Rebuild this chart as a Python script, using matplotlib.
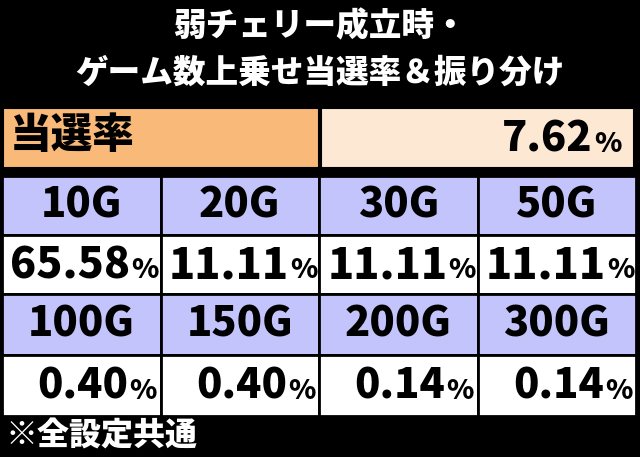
import matplotlib
matplotlib.use("Agg")
import matplotlib.pyplot as plt
from matplotlib.patches import Rectangle

title_lines = ["弱チェリー成立時・", "ゲーム数上乗せ当選率＆振り分け"]
rate_label = "当選率"
rate_value = "7.62"
headers = [["10G", "20G", "30G", "50G"], ["100G", "150G", "200G", "300G"]]
values = [["65.58", "11.11", "11.11", "11.11"], ["0.40", "0.40", "0.14", "0.14"]]
footer = "※全設定共通"

FONT = ["Noto Sans CJK JP", "DejaVu Sans"]
W = "black"
fig = plt.figure(figsize=(6.4, 4.57), dpi=100)
fig.patch.set_facecolor("black")
ax = fig.add_axes([0, 0, 1, 1])
ax.set_xlim(0, 640)
ax.set_ylim(457, 0)
ax.axis("off")

ax.text(320, 27, title_lines[0], color="white", fontsize=23.5, fontweight=W, family=FONT, ha="center", va="center")
ax.text(320, 73, title_lines[1], color="white", fontsize=23.5, fontweight=W, family=FONT, ha="center", va="center")

# rate row
ax.add_patch(Rectangle((3, 108), 316, 60, facecolor="#f9b978", edgecolor="black", lw=1.5))
ax.add_patch(Rectangle((321, 108), 313, 60, facecolor="#fde8d4", edgecolor="black", lw=1.5))
ax.text(10, 136, rate_label, fontsize=30, fontweight=W, family=FONT, ha="left", va="center")
ax.text(592, 140, rate_value, fontsize=30, fontweight=W, family=FONT, ha="right", va="center")
ax.text(594, 144, "%", fontsize=20, fontweight=W, family=FONT, ha="left", va="center")

x0, x1 = 2, 636
cw = (x1 - x0) / 4
rows = [(176, 235), (235, 294), (294, 355), (355, 416)]
for r in range(4):
    ya, yb = rows[r]
    for c in range(4):
        xa = x0 + c * cw
        hdr = r % 2 == 0
        ax.add_patch(Rectangle((xa, ya), cw, yb - ya, facecolor="#c4c4fc" if hdr else "white",
                               edgecolor="black", lw=2))
        yc = (ya + yb) / 2
        if hdr:
            ax.text(xa + cw / 2, yc, headers[r // 2][c], fontsize=30, fontweight=W, family=FONT,
                    ha="center", va="center")
        else:
            big = r == 1
            xr = xa + cw - 30 if big else xa + cw - 32
            ax.text(xr, yc + 1, values[r // 2][c], fontsize=31 if big else 30, fontweight=W,
                    family=FONT, ha="right", va="center")
            ax.text(xr + 1, yc + 5, "%", fontsize=20, fontweight=W, family=FONT, ha="left", va="center")

ax.text(6, 436, footer, color="white", fontsize=23, fontweight=W, family=FONT, ha="left", va="center")

fig.savefig("out.png", dpi=100, facecolor="black")
